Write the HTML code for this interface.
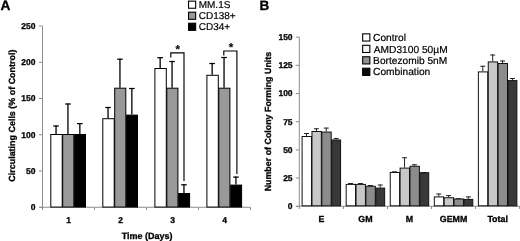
<!DOCTYPE html>
<html><head><meta charset="utf-8"><title>Figure</title>
<style>
html,body{margin:0;padding:0;background:#fff;}
body{width:520px;height:241px;overflow:hidden;}
svg{display:block;}
text{text-rendering:geometricPrecision;}
</style></head>
<body>
<svg width="520" height="241" viewBox="0 0 520 241">
<rect x="0" y="0" width="520" height="241" fill="#ffffff"/>
<text x="0.40" y="10.30" font-size="13.7" font-family="Liberation Sans, Arial, sans-serif" font-weight="bold" stroke="#000" stroke-width="0.3" text-anchor="start" fill="#000">A</text>
<line x1="42.50" y1="26.00" x2="42.50" y2="207.75" stroke="#8c8c8c" stroke-width="1"/>
<line x1="39.50" y1="207.25" x2="250.50" y2="207.25" stroke="#8c8c8c" stroke-width="1"/>
<line x1="39.00" y1="207.25" x2="42.50" y2="207.25" stroke="#8c8c8c" stroke-width="1"/>
<text x="35.40" y="210.15" font-size="8.5" font-family="Liberation Sans, Arial, sans-serif" font-weight="bold" stroke="#000" stroke-width="0.3" text-anchor="end" fill="#000">0</text>
<line x1="39.00" y1="171.00" x2="42.50" y2="171.00" stroke="#8c8c8c" stroke-width="1"/>
<text x="35.40" y="173.90" font-size="8.5" font-family="Liberation Sans, Arial, sans-serif" font-weight="bold" stroke="#000" stroke-width="0.3" text-anchor="end" fill="#000">50</text>
<line x1="39.00" y1="134.75" x2="42.50" y2="134.75" stroke="#8c8c8c" stroke-width="1"/>
<text x="35.40" y="137.65" font-size="8.5" font-family="Liberation Sans, Arial, sans-serif" font-weight="bold" stroke="#000" stroke-width="0.3" text-anchor="end" fill="#000">100</text>
<line x1="39.00" y1="98.50" x2="42.50" y2="98.50" stroke="#8c8c8c" stroke-width="1"/>
<text x="35.40" y="101.40" font-size="8.5" font-family="Liberation Sans, Arial, sans-serif" font-weight="bold" stroke="#000" stroke-width="0.3" text-anchor="end" fill="#000">150</text>
<line x1="39.00" y1="62.25" x2="42.50" y2="62.25" stroke="#8c8c8c" stroke-width="1"/>
<text x="35.40" y="65.15" font-size="8.5" font-family="Liberation Sans, Arial, sans-serif" font-weight="bold" stroke="#000" stroke-width="0.3" text-anchor="end" fill="#000">200</text>
<line x1="39.00" y1="26.00" x2="42.50" y2="26.00" stroke="#8c8c8c" stroke-width="1"/>
<text x="35.40" y="28.90" font-size="8.5" font-family="Liberation Sans, Arial, sans-serif" font-weight="bold" stroke="#000" stroke-width="0.3" text-anchor="end" fill="#000">250</text>
<line x1="42.50" y1="207.25" x2="42.50" y2="209.95" stroke="#8c8c8c" stroke-width="1"/>
<line x1="94.50" y1="207.25" x2="94.50" y2="209.95" stroke="#8c8c8c" stroke-width="1"/>
<line x1="146.50" y1="207.25" x2="146.50" y2="209.95" stroke="#8c8c8c" stroke-width="1"/>
<line x1="198.50" y1="207.25" x2="198.50" y2="209.95" stroke="#8c8c8c" stroke-width="1"/>
<line x1="250.50" y1="207.25" x2="250.50" y2="209.95" stroke="#8c8c8c" stroke-width="1"/>
<text x="68.50" y="222.50" font-size="8.5" font-family="Liberation Sans, Arial, sans-serif" font-weight="bold" stroke="#000" stroke-width="0.3" text-anchor="middle" fill="#000">1</text>
<text x="120.50" y="222.50" font-size="8.5" font-family="Liberation Sans, Arial, sans-serif" font-weight="bold" stroke="#000" stroke-width="0.3" text-anchor="middle" fill="#000">2</text>
<text x="172.50" y="222.50" font-size="8.5" font-family="Liberation Sans, Arial, sans-serif" font-weight="bold" stroke="#000" stroke-width="0.3" text-anchor="middle" fill="#000">3</text>
<text x="224.50" y="222.50" font-size="8.5" font-family="Liberation Sans, Arial, sans-serif" font-weight="bold" stroke="#000" stroke-width="0.3" text-anchor="middle" fill="#000">4</text>
<text x="147.10" y="238.60" font-size="9.0" font-family="Liberation Sans, Arial, sans-serif" font-weight="bold" stroke="#000" stroke-width="0.3" text-anchor="middle" fill="#000">Time (Days)</text>
<text x="14.70" y="115.65" font-size="8.95" font-family="Liberation Sans, Arial, sans-serif" font-weight="bold" stroke="#000" stroke-width="0.3" text-anchor="middle" fill="#000" transform="rotate(-90 14.70 115.65)">Circulating Cells (% of Control)</text>
<line x1="56.05" y1="125.50" x2="56.05" y2="134.00" stroke="#000" stroke-width="1.3"/>
<line x1="53.25" y1="126.00" x2="58.85" y2="126.00" stroke="#000" stroke-width="1.25"/>
<rect x="50.80" y="134.50" width="11.40" height="72.55" fill="#ffffff" stroke="#000" stroke-width="1"/>
<line x1="67.95" y1="103.50" x2="67.95" y2="134.00" stroke="#000" stroke-width="1.3"/>
<line x1="65.15" y1="104.00" x2="70.75" y2="104.00" stroke="#000" stroke-width="1.25"/>
<rect x="62.70" y="134.50" width="11.10" height="72.55" fill="#999999" stroke="#000" stroke-width="1"/>
<line x1="79.85" y1="123.10" x2="79.85" y2="134.00" stroke="#000" stroke-width="1.3"/>
<line x1="77.05" y1="123.60" x2="82.65" y2="123.60" stroke="#000" stroke-width="1.25"/>
<rect x="74.60" y="134.50" width="10.90" height="72.55" fill="#000000" stroke="#000" stroke-width="1"/>
<line x1="108.05" y1="107.00" x2="108.05" y2="118.20" stroke="#000" stroke-width="1.3"/>
<line x1="105.25" y1="107.50" x2="110.85" y2="107.50" stroke="#000" stroke-width="1.25"/>
<rect x="102.80" y="118.70" width="11.40" height="88.35" fill="#ffffff" stroke="#000" stroke-width="1"/>
<line x1="119.95" y1="58.70" x2="119.95" y2="87.70" stroke="#000" stroke-width="1.3"/>
<line x1="117.15" y1="59.20" x2="122.75" y2="59.20" stroke="#000" stroke-width="1.25"/>
<rect x="114.70" y="88.20" width="11.10" height="118.85" fill="#999999" stroke="#000" stroke-width="1"/>
<line x1="131.85" y1="88.00" x2="131.85" y2="114.60" stroke="#000" stroke-width="1.3"/>
<line x1="129.05" y1="88.50" x2="134.65" y2="88.50" stroke="#000" stroke-width="1.25"/>
<rect x="126.60" y="115.10" width="10.90" height="91.95" fill="#000000" stroke="#000" stroke-width="1"/>
<line x1="160.15" y1="57.20" x2="160.15" y2="68.00" stroke="#000" stroke-width="1.3"/>
<line x1="157.35" y1="57.70" x2="162.95" y2="57.70" stroke="#000" stroke-width="1.25"/>
<rect x="154.90" y="68.50" width="11.40" height="138.55" fill="#ffffff" stroke="#000" stroke-width="1"/>
<line x1="172.05" y1="61.00" x2="172.05" y2="87.70" stroke="#000" stroke-width="1.3"/>
<line x1="169.25" y1="61.50" x2="174.85" y2="61.50" stroke="#000" stroke-width="1.25"/>
<rect x="166.80" y="88.20" width="11.10" height="118.85" fill="#999999" stroke="#000" stroke-width="1"/>
<line x1="183.95" y1="184.30" x2="183.95" y2="193.00" stroke="#000" stroke-width="1.3"/>
<line x1="181.15" y1="184.80" x2="186.75" y2="184.80" stroke="#000" stroke-width="1.25"/>
<rect x="178.70" y="193.50" width="10.90" height="13.55" fill="#000000" stroke="#000" stroke-width="1"/>
<line x1="212.15" y1="63.00" x2="212.15" y2="74.80" stroke="#000" stroke-width="1.3"/>
<line x1="209.35" y1="63.50" x2="214.95" y2="63.50" stroke="#000" stroke-width="1.25"/>
<rect x="206.90" y="75.30" width="11.40" height="131.75" fill="#ffffff" stroke="#000" stroke-width="1"/>
<line x1="224.05" y1="57.00" x2="224.05" y2="87.70" stroke="#000" stroke-width="1.3"/>
<line x1="221.25" y1="57.50" x2="226.85" y2="57.50" stroke="#000" stroke-width="1.25"/>
<rect x="218.80" y="88.20" width="11.10" height="118.85" fill="#999999" stroke="#000" stroke-width="1"/>
<line x1="235.95" y1="176.60" x2="235.95" y2="184.60" stroke="#000" stroke-width="1.3"/>
<line x1="233.15" y1="177.10" x2="238.75" y2="177.10" stroke="#000" stroke-width="1.25"/>
<rect x="230.70" y="185.10" width="10.90" height="21.95" fill="#000000" stroke="#000" stroke-width="1"/>
<polyline points="170.80,57.50 170.80,52.90 184.00,52.90 184.00,181.00" fill="none" stroke="#000" stroke-width="1.15"/>
<text x="177.80" y="52.70" font-size="11.5" font-family="Liberation Sans, Arial, sans-serif" font-weight="bold" stroke="#000" stroke-width="0.1" text-anchor="middle" fill="#000">*</text>
<polyline points="223.80,55.50 223.80,51.00 236.90,51.00 236.90,174.00" fill="none" stroke="#000" stroke-width="1.15"/>
<text x="231.00" y="51.00" font-size="11.5" font-family="Liberation Sans, Arial, sans-serif" font-weight="bold" stroke="#000" stroke-width="0.1" text-anchor="middle" fill="#000">*</text>
<rect x="188.55" y="1.15" width="7.10" height="7.10" fill="#ffffff" stroke="#000" stroke-width="1.1"/>
<text x="198.70" y="8.40" font-size="10" font-family="Liberation Sans, Arial, sans-serif" stroke="#000" stroke-width="0.2" text-anchor="start" fill="#000">MM.1S</text>
<rect x="188.55" y="12.20" width="7.10" height="7.10" fill="#999999" stroke="#000" stroke-width="1.1"/>
<text x="198.70" y="19.15" font-size="10" font-family="Liberation Sans, Arial, sans-serif" stroke="#000" stroke-width="0.2" text-anchor="start" fill="#000">CD138+</text>
<rect x="188.55" y="23.25" width="7.10" height="7.10" fill="#000000" stroke="#000" stroke-width="1.1"/>
<text x="198.70" y="29.90" font-size="10" font-family="Liberation Sans, Arial, sans-serif" stroke="#000" stroke-width="0.2" text-anchor="start" fill="#000">CD34+</text>
<text x="259.40" y="10.30" font-size="13.5" font-family="Liberation Sans, Arial, sans-serif" font-weight="bold" stroke="#000" stroke-width="0.3" text-anchor="start" fill="#000">B</text>
<line x1="299.30" y1="37.10" x2="299.30" y2="206.80" stroke="#8c8c8c" stroke-width="1"/>
<line x1="296.30" y1="206.30" x2="520.00" y2="206.30" stroke="#8c8c8c" stroke-width="1"/>
<line x1="295.80" y1="206.30" x2="299.30" y2="206.30" stroke="#8c8c8c" stroke-width="1"/>
<text x="292.60" y="209.20" font-size="8.5" font-family="Liberation Sans, Arial, sans-serif" font-weight="bold" stroke="#000" stroke-width="0.3" text-anchor="end" fill="#000">0</text>
<line x1="295.80" y1="178.10" x2="299.30" y2="178.10" stroke="#8c8c8c" stroke-width="1"/>
<text x="292.60" y="181.00" font-size="8.5" font-family="Liberation Sans, Arial, sans-serif" font-weight="bold" stroke="#000" stroke-width="0.3" text-anchor="end" fill="#000">25</text>
<line x1="295.80" y1="149.90" x2="299.30" y2="149.90" stroke="#8c8c8c" stroke-width="1"/>
<text x="292.60" y="152.80" font-size="8.5" font-family="Liberation Sans, Arial, sans-serif" font-weight="bold" stroke="#000" stroke-width="0.3" text-anchor="end" fill="#000">50</text>
<line x1="295.80" y1="121.70" x2="299.30" y2="121.70" stroke="#8c8c8c" stroke-width="1"/>
<text x="292.60" y="124.60" font-size="8.5" font-family="Liberation Sans, Arial, sans-serif" font-weight="bold" stroke="#000" stroke-width="0.3" text-anchor="end" fill="#000">75</text>
<line x1="295.80" y1="93.50" x2="299.30" y2="93.50" stroke="#8c8c8c" stroke-width="1"/>
<text x="292.60" y="96.40" font-size="8.5" font-family="Liberation Sans, Arial, sans-serif" font-weight="bold" stroke="#000" stroke-width="0.3" text-anchor="end" fill="#000">100</text>
<line x1="295.80" y1="65.30" x2="299.30" y2="65.30" stroke="#8c8c8c" stroke-width="1"/>
<text x="292.60" y="68.20" font-size="8.5" font-family="Liberation Sans, Arial, sans-serif" font-weight="bold" stroke="#000" stroke-width="0.3" text-anchor="end" fill="#000">125</text>
<line x1="295.80" y1="37.10" x2="299.30" y2="37.10" stroke="#8c8c8c" stroke-width="1"/>
<text x="292.60" y="40.00" font-size="8.5" font-family="Liberation Sans, Arial, sans-serif" font-weight="bold" stroke="#000" stroke-width="0.3" text-anchor="end" fill="#000">150</text>
<line x1="299.30" y1="206.30" x2="299.30" y2="209.00" stroke="#8c8c8c" stroke-width="1"/>
<line x1="343.37" y1="206.30" x2="343.37" y2="209.00" stroke="#8c8c8c" stroke-width="1"/>
<line x1="387.44" y1="206.30" x2="387.44" y2="209.00" stroke="#8c8c8c" stroke-width="1"/>
<line x1="431.51" y1="206.30" x2="431.51" y2="209.00" stroke="#8c8c8c" stroke-width="1"/>
<line x1="475.58" y1="206.30" x2="475.58" y2="209.00" stroke="#8c8c8c" stroke-width="1"/>
<line x1="519.65" y1="206.30" x2="519.65" y2="209.00" stroke="#8c8c8c" stroke-width="1"/>
<text x="321.34" y="222.00" font-size="8.85" font-family="Liberation Sans, Arial, sans-serif" font-weight="bold" stroke="#000" stroke-width="0.3" text-anchor="middle" fill="#000">E</text>
<text x="365.41" y="222.00" font-size="8.85" font-family="Liberation Sans, Arial, sans-serif" font-weight="bold" stroke="#000" stroke-width="0.3" text-anchor="middle" fill="#000">GM</text>
<text x="409.48" y="222.00" font-size="8.85" font-family="Liberation Sans, Arial, sans-serif" font-weight="bold" stroke="#000" stroke-width="0.3" text-anchor="middle" fill="#000">M</text>
<text x="453.55" y="222.00" font-size="8.85" font-family="Liberation Sans, Arial, sans-serif" font-weight="bold" stroke="#000" stroke-width="0.3" text-anchor="middle" fill="#000">GEMM</text>
<text x="497.62" y="222.00" font-size="8.85" font-family="Liberation Sans, Arial, sans-serif" font-weight="bold" stroke="#000" stroke-width="0.3" text-anchor="middle" fill="#000">Total</text>
<text x="270.60" y="121.60" font-size="8.9" font-family="Liberation Sans, Arial, sans-serif" font-weight="bold" stroke="#000" stroke-width="0.3" text-anchor="middle" fill="#000" transform="rotate(-90 270.60 121.60)">Number of Colony Forming Units</text>
<line x1="306.54" y1="133.00" x2="306.54" y2="136.00" stroke="#222" stroke-width="1"/>
<line x1="304.04" y1="133.50" x2="309.04" y2="133.50" stroke="#222" stroke-width="1"/>
<rect x="302.10" y="136.50" width="9.37" height="69.30" fill="#ffffff" stroke="#111" stroke-width="1"/>
<line x1="316.41" y1="128.25" x2="316.41" y2="131.00" stroke="#222" stroke-width="1"/>
<line x1="313.91" y1="128.75" x2="318.91" y2="128.75" stroke="#222" stroke-width="1"/>
<rect x="311.97" y="131.50" width="9.37" height="74.30" fill="#c8c8c8" stroke="#111" stroke-width="1"/>
<line x1="326.28" y1="127.60" x2="326.28" y2="131.60" stroke="#222" stroke-width="1"/>
<line x1="323.78" y1="128.10" x2="328.78" y2="128.10" stroke="#222" stroke-width="1"/>
<rect x="321.84" y="132.10" width="9.37" height="73.70" fill="#8c8c8c" stroke="#111" stroke-width="1"/>
<line x1="336.15" y1="138.00" x2="336.15" y2="139.50" stroke="#222" stroke-width="1"/>
<line x1="333.65" y1="138.50" x2="338.65" y2="138.50" stroke="#222" stroke-width="1"/>
<rect x="331.71" y="140.00" width="8.87" height="65.80" fill="#383838" stroke="#111" stroke-width="1"/>
<line x1="348.11" y1="183.50" x2="353.11" y2="183.50" stroke="#222" stroke-width="1"/>
<rect x="346.17" y="184.40" width="9.37" height="21.40" fill="#ffffff" stroke="#111" stroke-width="1"/>
<line x1="357.98" y1="183.50" x2="362.98" y2="183.50" stroke="#222" stroke-width="1"/>
<rect x="356.04" y="184.40" width="9.37" height="21.40" fill="#c8c8c8" stroke="#111" stroke-width="1"/>
<line x1="367.85" y1="185.50" x2="372.85" y2="185.50" stroke="#222" stroke-width="1"/>
<rect x="365.91" y="186.25" width="9.37" height="19.55" fill="#8c8c8c" stroke="#111" stroke-width="1"/>
<line x1="380.22" y1="184.50" x2="380.22" y2="187.60" stroke="#222" stroke-width="1"/>
<line x1="377.72" y1="185.00" x2="382.72" y2="185.00" stroke="#222" stroke-width="1"/>
<rect x="375.78" y="188.10" width="8.87" height="17.70" fill="#383838" stroke="#111" stroke-width="1"/>
<line x1="392.18" y1="171.80" x2="397.18" y2="171.80" stroke="#222" stroke-width="1"/>
<rect x="390.24" y="172.50" width="9.37" height="33.30" fill="#ffffff" stroke="#111" stroke-width="1"/>
<line x1="404.55" y1="157.25" x2="404.55" y2="167.60" stroke="#222" stroke-width="1"/>
<line x1="402.05" y1="157.75" x2="407.05" y2="157.75" stroke="#222" stroke-width="1"/>
<rect x="400.11" y="168.10" width="9.37" height="37.70" fill="#c8c8c8" stroke="#111" stroke-width="1"/>
<line x1="414.42" y1="164.25" x2="414.42" y2="165.75" stroke="#222" stroke-width="1"/>
<line x1="411.92" y1="164.75" x2="416.92" y2="164.75" stroke="#222" stroke-width="1"/>
<rect x="409.98" y="166.25" width="9.37" height="39.55" fill="#8c8c8c" stroke="#111" stroke-width="1"/>
<line x1="421.79" y1="172.50" x2="426.79" y2="172.50" stroke="#222" stroke-width="1"/>
<rect x="419.85" y="172.75" width="8.87" height="33.05" fill="#383838" stroke="#111" stroke-width="1"/>
<line x1="438.75" y1="193.50" x2="438.75" y2="196.40" stroke="#222" stroke-width="1"/>
<line x1="436.25" y1="194.00" x2="441.25" y2="194.00" stroke="#222" stroke-width="1"/>
<rect x="434.31" y="196.90" width="9.37" height="8.90" fill="#ffffff" stroke="#111" stroke-width="1"/>
<line x1="448.62" y1="195.10" x2="448.62" y2="197.25" stroke="#222" stroke-width="1"/>
<line x1="446.12" y1="195.60" x2="451.12" y2="195.60" stroke="#222" stroke-width="1"/>
<rect x="444.18" y="197.75" width="9.37" height="8.05" fill="#c8c8c8" stroke="#111" stroke-width="1"/>
<line x1="455.99" y1="198.70" x2="460.99" y2="198.70" stroke="#222" stroke-width="1"/>
<rect x="454.05" y="199.00" width="9.37" height="6.80" fill="#8c8c8c" stroke="#111" stroke-width="1"/>
<line x1="468.36" y1="196.40" x2="468.36" y2="198.90" stroke="#222" stroke-width="1"/>
<line x1="465.86" y1="196.90" x2="470.86" y2="196.90" stroke="#222" stroke-width="1"/>
<rect x="463.92" y="199.40" width="8.87" height="6.40" fill="#383838" stroke="#111" stroke-width="1"/>
<line x1="482.82" y1="65.75" x2="482.82" y2="71.40" stroke="#222" stroke-width="1"/>
<line x1="480.32" y1="66.25" x2="485.32" y2="66.25" stroke="#222" stroke-width="1"/>
<rect x="478.38" y="71.90" width="9.37" height="133.90" fill="#ffffff" stroke="#111" stroke-width="1"/>
<line x1="492.69" y1="54.50" x2="492.69" y2="61.40" stroke="#222" stroke-width="1"/>
<line x1="490.19" y1="55.00" x2="495.19" y2="55.00" stroke="#222" stroke-width="1"/>
<rect x="488.25" y="61.90" width="9.37" height="143.90" fill="#c8c8c8" stroke="#111" stroke-width="1"/>
<line x1="502.56" y1="60.50" x2="502.56" y2="63.00" stroke="#222" stroke-width="1"/>
<line x1="500.06" y1="61.00" x2="505.06" y2="61.00" stroke="#222" stroke-width="1"/>
<rect x="498.12" y="63.50" width="9.37" height="142.30" fill="#8c8c8c" stroke="#111" stroke-width="1"/>
<line x1="512.43" y1="78.00" x2="512.43" y2="80.10" stroke="#222" stroke-width="1"/>
<line x1="509.93" y1="78.50" x2="514.93" y2="78.50" stroke="#222" stroke-width="1"/>
<rect x="507.99" y="80.60" width="8.87" height="125.20" fill="#383838" stroke="#111" stroke-width="1"/>
<rect x="362.65" y="33.85" width="7.20" height="7.20" fill="#ffffff" stroke="#000" stroke-width="1.1"/>
<text x="373.10" y="41.30" font-size="10.2" font-family="Liberation Sans, Arial, sans-serif" stroke="#000" stroke-width="0.2" text-anchor="start" fill="#000">Control</text>
<rect x="362.65" y="45.30" width="7.20" height="7.20" fill="#f6f6f6" stroke="#000" stroke-width="1.1"/>
<text x="373.80" y="52.60" font-size="10.2" font-family="Liberation Sans, Arial, sans-serif" stroke="#000" stroke-width="0.2" text-anchor="start" fill="#000">AMD3100 50µM</text>
<rect x="362.65" y="56.75" width="7.20" height="7.20" fill="#909090" stroke="#000" stroke-width="1.1"/>
<text x="373.10" y="63.60" font-size="10.2" font-family="Liberation Sans, Arial, sans-serif" stroke="#000" stroke-width="0.2" text-anchor="start" fill="#000">Bortezomib 5nM</text>
<rect x="362.65" y="68.20" width="7.20" height="7.20" fill="#0c0c0c" stroke="#000" stroke-width="1.1"/>
<text x="373.10" y="74.60" font-size="10.2" font-family="Liberation Sans, Arial, sans-serif" stroke="#000" stroke-width="0.2" text-anchor="start" fill="#000">Combination</text>
</svg>
</body></html>
